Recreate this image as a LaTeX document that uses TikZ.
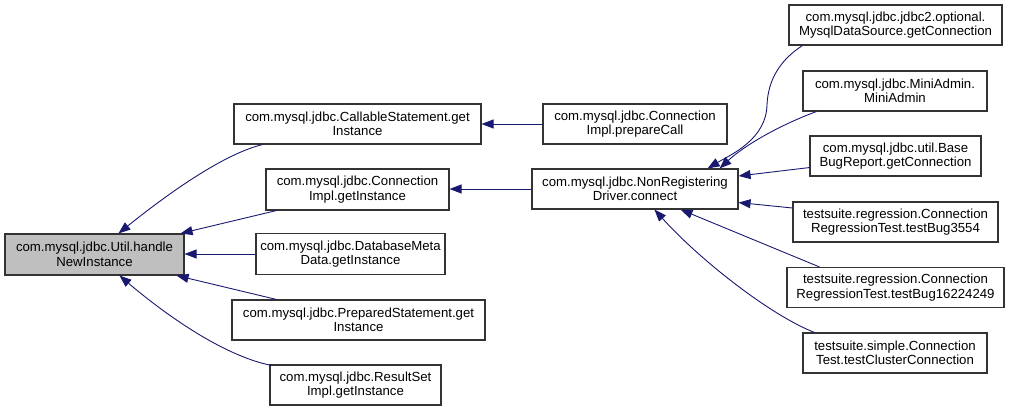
\documentclass[tikz,border=0pt]{standalone}
\usepackage{fontspec}
\setmainfont{Liberation Sans}
\usetikzlibrary{arrows.meta,calc}
\definecolor{edgeblue}{HTML}{191970}
\definecolor{boxline}{HTML}{333333}
\definecolor{focusfill}{HTML}{BFBFBF}
\tikzset{
  fn/.style={draw=boxline, line width=1.1pt, fill=white, align=center, inner sep=0pt,
    minimum height=40pt, font=\fontsize{13.2}{14.5}\selectfont},
  focus/.style={fn, fill=focusfill},
  call/.style={draw=edgeblue, line width=0.9pt, -{Triangle[length=12pt,width=9pt]}, fill=none},
}
\begin{document}
\begin{tikzpicture}[x=1pt,y=-1pt]
\useasboundingbox (0,0) rectangle (1009,412);
% nodes
\node[focus, minimum width=179pt, minimum height=41pt] (util) at (94.5,254.5) {com.mysql.jdbc.Util.handle\\NewInstance};
\node[fn, minimum width=247pt] (cs) at (357.5,124) {com.mysql.jdbc.CallableStatement.get\\Instance};
\node[fn, minimum width=183pt, minimum height=41pt] (cgi) at (357.5,189.5) {com.mysql.jdbc.Connection\\Impl.getInstance};
\node[fn, minimum width=189pt, minimum height=41pt] (dmd) at (350.5,254) {com.mysql.jdbc.DatabaseMeta\\Data.getInstance};
\node[fn, minimum width=253pt] (ps) at (358.5,320) {com.mysql.jdbc.PreparedStatement.get\\Instance};
\node[fn, minimum width=171pt] (rs) at (355.5,385) {com.mysql.jdbc.ResultSet\\Impl.getInstance};
\node[fn, minimum width=184pt] (pc) at (635,124) {com.mysql.jdbc.Connection\\Impl.prepareCall};
\node[fn, minimum width=206pt] (nrd) at (635,189) {com.mysql.jdbc.NonRegistering\\Driver.connect};
\node[fn, minimum width=213pt] (mds) at (895.5,25) {com.mysql.jdbc.jdbc2.optional.\\MysqlDataSource.getConnection};
\node[fn, minimum width=184pt] (ma) at (895,91) {com.mysql.jdbc.MiniAdmin.\\MiniAdmin};
\node[fn, minimum width=171pt] (bbr) at (895.5,156) {com.mysql.jdbc.util.Base\\BugReport.getConnection};
\node[fn, minimum width=205pt] (tb3) at (895.5,222) {testsuite.regression.Connection\\RegressionTest.testBug3554};
\node[fn, minimum width=217pt] (tb16) at (895.5,287.5) {testsuite.regression.Connection\\RegressionTest.testBug16224249};
\node[fn, minimum width=184pt] (tcc) at (895,353) {testsuite.simple.Connection\\Test.testClusterConnection};
% edges into util
\draw[call] ($(cs.south west)+(29,0)$) .. controls (220,155) and (160,200) .. ($(util.north west)+(114,0)$);
\draw[call] ($(cgi.south west)+(11,0)$) -- ($(util.north east)+(-4,0)$);
\draw[call] (dmd.west) -- (util.east |- dmd.west);
\draw[call] ($(ps.north west)+(45,0)$) -- ($(util.south east)+(-8,0)$);
\draw[call] ($(rs.north west)+(2,1)$) .. controls (220,355) and (160,310) .. ($(util.south west)+(115,0)$);
% second column
\draw[call] (pc.west) -- (cs.east |- pc.west);
\draw[call] (nrd.west) -- (cgi.east |- nrd.west);
% into nrd
\draw[call] ($(mds.south west)+(14,0)$) .. controls (780,60) and (768,80) .. (767,105) .. controls (766,140) and (730,155) .. ($(nrd.north east)+(-31,0)$);
\draw[call] ($(ma.south west)+(14,0)$) .. controls (780,125) and (745,145) .. ($(nrd.north east)+(-19,0)$);
\draw[call] ($(bbr.south west)+(0,-9)$) -- ($(nrd.east)+(0,-13)$);
\draw[call] ($(tb3.west)+(0,-14)$) -- ($(nrd.south east)+(0,-7)$);
\draw[call] ($(tb16.north west)+(33,0)$) -- ($(nrd.south east)+(-58,0)$);
\draw[call] ($(tcc.north west)+(12,0)$) .. controls (770,315) and (700,260) .. ($(nrd.south west)+(123,0)$);
\end{tikzpicture}
\end{document}
